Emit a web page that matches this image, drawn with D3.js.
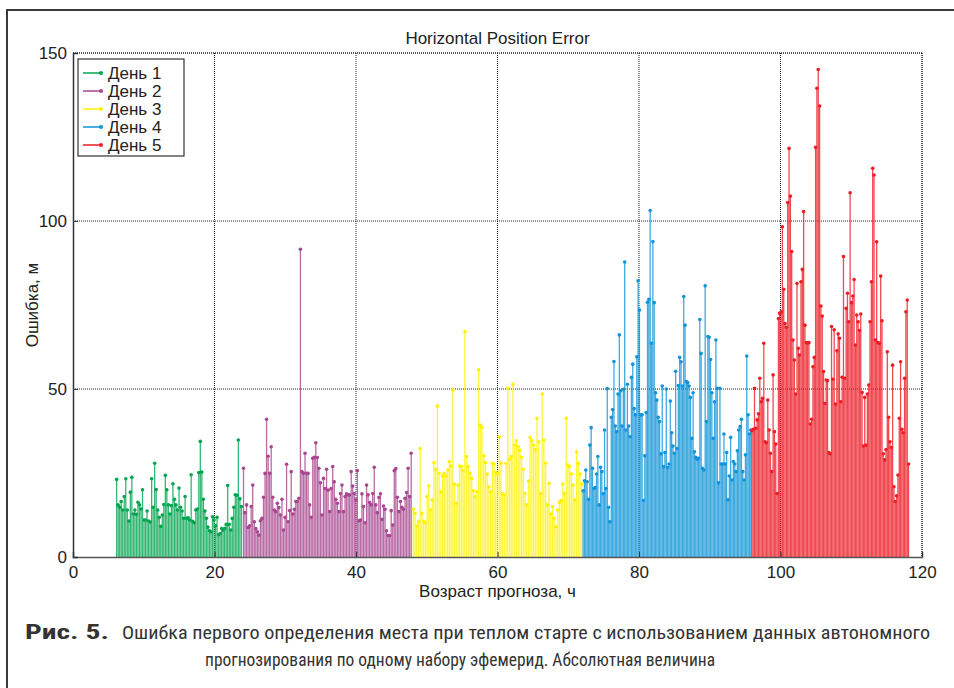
<!doctype html>
<html>
<head>
  <meta charset="utf-8">
  <script src="https://cdnjs.cloudflare.com/ajax/libs/d3/7.8.5/d3.min.js"></script>
  <style>
    body { margin: 0; background: #fff; }
    svg { display: block; font-family: "Liberation Sans", Arial, sans-serif; }
    .tick text { font-size: 17px; fill: #222; font-family: "Liberation Sans", Arial, sans-serif; }
  </style>
</head>
<body>
  <svg id="chart" width="954" height="688"></svg>
  <script>
    // one array of errors (m) per day of prediction
    var day1 = [23.1, 15.5, 14.8, 16.5, 14, 18, 23.3, 14, 10.7, 19.3, 23.7, 12.8, 14, 12.7, 16.3, 15.5, 14.3, 20, 11, 11,
      13.7, 10.7, 10.4, 23.3, 14.8, 27.9, 20.1, 14, 11.8, 9.1, 12.5, 15.6, 24.3, 20, 15.5, 12.8, 15.3, 21.8, 17.2, 15.5,
      14, 20.5, 14.8, 13.7, 11.5, 18, 11.5, 11.7, 11, 24.5, 10.6, 10.2, 14, 14.3, 25.1, 34.4, 25.3, 17.2, 13.7, 11.5,
      8.9, 7.8, 7.5, 12, 11, 9.3, 11.8, 6.6, 7, 8.5, 8, 8.5, 9.7, 21.3, 9.7, 8, 11.5, 14.8, 18.5, 18.4, 34.8, 17.3, 15];
    var day2 = [26.4, 13.2, 15.5, 8.8, 9.3, 15, 21.4, 10.5, 8.5, 7.5, 6.5, 10.8, 11.5, 17.8, 24.9, 41, 30, 24.9, 32.8, 17.8,
      14, 13.5, 16, 14.7, 12.5, 17.2, 8, 11.8, 27.6, 10.5, 13.8, 25.4, 12.8, 14.2, 16.5, 16.5, 17.5, 91.6, 25.4, 24.9,
      30.9, 24.9, 24.9, 15.5, 11.8, 29.4, 29.7, 34, 29.6, 26.4, 22.1, 12.5, 23.4, 20.4, 26.1, 19.9, 13.5, 20.4, 26.9, 22.4,
      17.2, 16, 13.5, 18.9, 21.4, 13.5, 18, 18.8, 18.5, 18.5, 25.4, 21.1, 18.9, 17, 25.7, 10.8, 11, 18.8, 15, 10.2,
      21.4, 18.5, 16.2, 15.5, 18.9, 26.7, 15.5, 13.2, 17.7, 18.8, 11.2, 15.2, 14.2, 7.8, 6.4, 6.4, 13.8, 9.5, 25.7, 26.3,
      17.8, 13.5, 16.5, 14.8, 14.2, 17.5, 19.2, 26.4, 18, 30.9];
    var day3 = [14.2, 13, 9.2, 10.5, 32.3, 13, 10.7, 10.2, 18, 21.2, 14, 17, 28.1, 26.1, 44.9, 24.9, 19.4, 24.1, 24.9, 24.1,
      25.9, 28.4, 27.1, 49.7, 21.7, 16, 21.4, 27.1, 26.9, 25.7, 67.1, 29.9, 26.9, 24.9, 23.4, 19.7, 18, 19.4, 55.7, 39.3,
      38.6, 30.1, 28.1, 24.7, 20.9, 19.4, 27.9, 27.7, 25.1, 24.9, 35.8, 27.9, 18.8, 18.5, 27.9, 50.2, 29.1, 29.9, 51.4, 33.3,
      34.6, 32.8, 31.8, 29.7, 26.1, 18.9, 15.5, 22.6, 35.6, 34.6, 33.3, 32, 41.3, 34.3, 18.9, 48.5, 34.8, 27.9, 15.5, 21.9,
      12.8, 15, 11.5, 9, 14, 16.2, 16.8, 21.7, 18.9, 41.3, 27.4, 26.9, 24.7, 21.4, 17, 31.3, 27.9, 24.7, 21.7];
    var day4 = [19.7, 22.7, 25.9, 22.4, 17.2, 33.3, 38.5, 26.4, 20.4, 20.7, 24.7, 29.9, 15.5, 26.7, 25.4, 18.8, 37.8, 20.4, 50.1, 14.8,
      10.5, 41.6, 43.9, 58.2, 39, 37.3, 48.5, 66.1, 49.5, 39, 49.9, 87.8, 37.8, 51.4, 39, 35.8, 53.5, 57.4, 44.2, 42.3,
      59.6, 82.2, 73.5, 42.3, 42.3, 16.8, 30.1, 43, 75.8, 76.7, 103.1, 63.6, 93.9, 75.7, 48.9, 46.7, 41.6, 40.3, 30.7, 50.9,
      26.9, 31.1, 50, 26.6, 27.7, 46.4, 37, 33, 30.9, 55.3, 32.3, 51, 59.4, 58.1, 50.9, 77.5, 69, 52.2, 51.9, 50.9,
      47.5, 35.3, 48.9, 31.3, 29.7, 29.1, 29.4, 70.7, 60.6, 26.4, 25.9, 80.7, 40.3, 65.6, 65.4, 58.8, 48.9, 35.3, 46.2, 64.6,
      50.2, 22.1, 50.2, 27.7, 27.7, 36.6, 27.7, 31.1, 17, 24.1, 35.6, 22.9, 28.4, 27.7, 25.4, 31.6, 37.8, 38.8, 41, 25.4,
      22.9, 30.4, 59.8, 42.3, 36.6, 37.8];
    var day5 = [37.6, 38, 50.2, 38.3, 40.8, 42.6, 53.2, 46.2, 47.2, 63.6, 34.3, 34, 46.7, 37.8, 30.9, 25.4, 54.2, 37.3, 33.6, 18.9,
      71, 72.5, 73, 98.3, 79.7, 69.5, 68.4, 105.5, 121.6, 107.4, 90.9, 64.6, 58.6, 48.5, 81.4, 62.1, 60.1, 81.9, 85.6, 102.8,
      69, 63.8, 63.8, 63.8, 39.6, 41, 56.6, 59.4, 121.9, 139.5, 145.1, 134.2, 74.7, 71.7, 55.2, 45.7, 52.7, 52.5, 31.1, 30.7,
      68.6, 52.9, 67.6, 45.5, 61.4, 66.4, 65.1, 46.2, 53.5, 89.4, 53.2, 74, 78.5, 70, 108.4, 75.7, 77.7, 82.6, 63.1, 72,
      70, 67.4, 72.3, 49, 33, 47.5, 33.3, 48.5, 51.2, 70, 81.9, 115.7, 113.7, 64.6, 93.8, 63.8, 63.6, 83.6, 70.3, 30.7,
      28.9, 32, 61.1, 41.6, 34.3, 32.6, 57.1, 20.9, 16.5, 18.2, 24.4, 41.3, 58.1, 38, 37, 53.2, 73, 76.5, 27.7];

    // first and last sample hour of each day
    var dayStart = [6.17, 24.1, 48.1, 72.1, 95.95];
    var dayEnd = [23.8, 47.8, 71.9, 95.8, 118.1];
    var dayNames = ["День 1", "День 2", "День 3", "День 4", "День 5"];
    var dayColors = ["#00a54f", "#a8468f", "#fff200", "#0f95d8", "#ee1c25"];
    var xTicks = [0, 20, 40, 60, 80, 100, 120];
    var yTicks = [0, 50, 100, 150];

    var days = [day1, day2, day3, day4, day5];

    var svg = d3.select("#chart");
    var plotL = 73, plotR = 922, plotT = 53, plotB = 557;

    var x = d3.scaleLinear().domain([0, 120]).range([plotL, plotR]);
    var y = d3.scaleLinear().domain([0, 150]).range([plotB, plotT]);

    // outer frame (top and left only)
    svg.append("path")
      .attr("d", "M7,688 L7,10 L954,10")
      .attr("fill", "none")
      .attr("stroke", "#3a3a3a")
      .attr("stroke-width", 2);

    // grid
    var grid = svg.append("g");
    grid.selectAll(".vg")
      .data(xTicks.slice(1))
      .enter()
      .append("line")
      .attr("x1", d => x(d)).attr("x2", d => x(d))
      .attr("y1", plotT).attr("y2", plotB)
      .attr("stroke", "#222")
      .attr("stroke-width", 1)
      .attr("stroke-dasharray", "1,1");
    grid.selectAll(".hg")
      .data(yTicks.slice(1))
      .enter()
      .append("line")
      .attr("x1", plotL).attr("x2", plotR)
      .attr("y1", d => y(d)).attr("y2", d => y(d))
      .attr("stroke", "#222")
      .attr("stroke-width", 1)
      .attr("stroke-dasharray", "1,1");

    // stems
    days.forEach(function (vals, k) {
      var step = (dayEnd[k] - dayStart[k]) / (vals.length - 1);
      var pts = vals.map((v, i) => ({ h: dayStart[k] + i * step, v: v }));
      var g = svg.append("g");
      g.selectAll("line")
        .data(pts)
        .enter()
        .append("line")
        .attr("x1", d => x(d.h)).attr("x2", d => x(d.h))
        .attr("y1", y(0)).attr("y2", d => y(d.v))
        .attr("stroke", dayColors[k])
        .attr("stroke-opacity", 0.8)
        .attr("stroke-width", 1.3);
      g.selectAll("circle")
        .data(pts)
        .enter()
        .append("circle")
        .attr("cx", d => x(d.h))
        .attr("cy", d => y(d.v))
        .attr("r", 1.8)
        .attr("fill", dayColors[k]);
    });

    // axes
    var xAxis = svg.append("g")
      .attr("transform", "translate(0," + plotB + ")")
      .call(d3.axisBottom(x).tickValues(xTicks).tickSize(-5).tickPadding(9));
    xAxis.select(".domain").attr("stroke", "#555").attr("stroke-width", 1.5);
    var yAxis = svg.append("g")
      .attr("transform", "translate(" + plotL + ",0)")
      .call(d3.axisLeft(y).tickValues(yTicks).tickSize(-5).tickPadding(6));
    yAxis.select(".domain").attr("stroke", "#333").attr("stroke-width", 1.5);
    svg.selectAll(".tick line").attr("stroke", "#333");

    // top and right dotted box edges
    svg.append("line")
      .attr("x1", plotL).attr("x2", plotR).attr("y1", plotT).attr("y2", plotT)
      .attr("stroke", "#222").attr("stroke-dasharray", "1,1");
    svg.append("line")
      .attr("x1", plotR).attr("x2", plotR).attr("y1", plotT).attr("y2", plotB)
      .attr("stroke", "#222").attr("stroke-dasharray", "1,1");

    // titles
    svg.append("text")
      .attr("x", (plotL + plotR) / 2).attr("y", 44)
      .attr("text-anchor", "middle")
      .attr("font-size", 17).attr("fill", "#222")
      .text("Horizontal Position Error");
    svg.append("text")
      .attr("x", (plotL + plotR) / 2).attr("y", 597)
      .attr("text-anchor", "middle")
      .attr("font-size", 17).attr("fill", "#222")
      .text("Возраст прогноза, ч");
    svg.append("text")
      .attr("transform", "translate(38," + ((plotT + plotB) / 2) + ") rotate(-90)")
      .attr("text-anchor", "middle")
      .attr("font-size", 17).attr("fill", "#222")
      .text("Ошибка, м");

    // legend
    var leg = svg.append("g");
    leg.append("rect")
      .attr("x", 78).attr("y", 59).attr("width", 106).attr("height", 97)
      .attr("fill", "#fff").attr("stroke", "#333").attr("stroke-width", 1.2);
    dayNames.forEach(function (name, k) {
      var cy = 73 + k * 18;
      leg.append("line")
        .attr("x1", 83).attr("x2", 101).attr("y1", cy).attr("y2", cy)
        .attr("stroke", dayColors[k]).attr("stroke-width", 1.5);
      leg.append("circle")
        .attr("cx", 101).attr("cy", cy).attr("r", 2)
        .attr("fill", dayColors[k]);
      leg.append("text")
        .attr("x", 108).attr("y", cy + 6)
        .attr("font-size", 17).attr("fill", "#222")
        .text(name);
    });

    // caption
    var cap = svg.append("g")
      .attr("font-family", "'Roboto Condensed', 'Liberation Sans Narrow', Roboto, sans-serif")
      .attr("font-size", 18).attr("fill", "#333");
    cap.append("text")
      .attr("x", 25).attr("y", 639)
      .attr("font-weight", "bold")
      .attr("font-size", 20)
      .attr("textLength", 84).attr("lengthAdjust", "spacingAndGlyphs")
      .text("Рис. 5.");
    cap.append("text")
      .attr("x", 122).attr("y", 639)
      .attr("textLength", 808).attr("lengthAdjust", "spacingAndGlyphs")
      .text("Ошибка первого определения места при теплом старте с использованием данных автономного");
    cap.append("text")
      .attr("x", 205).attr("y", 666)
      .attr("textLength", 510).attr("lengthAdjust", "spacingAndGlyphs")
      .text("прогнозирования по одному набору эфемерид. Абсолютная величина");
  </script>
</body>
</html>
